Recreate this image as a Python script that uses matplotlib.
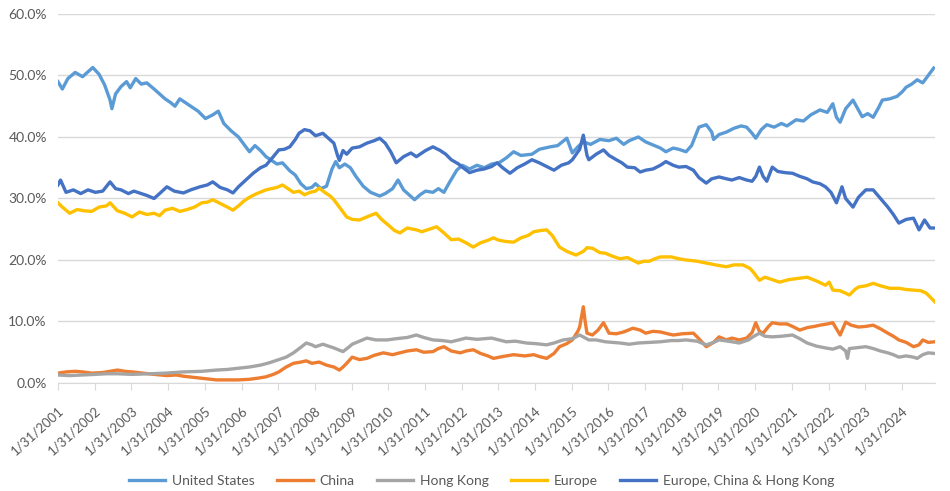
import matplotlib
matplotlib.use("Agg")
import matplotlib.pyplot as plt

# --- Data (fractional year, share in %) ---
us_x = [2001.08, 2001.2, 2001.35, 2001.55, 2001.75, 2001.9, 2002.03, 2002.2, 2002.35, 2002.5,
        2002.55, 2002.65, 2002.8, 2002.95, 2003.05, 2003.2, 2003.35, 2003.5, 2003.7, 2003.85,
        2004.0, 2004.15, 2004.27, 2004.4, 2004.55, 2004.7, 2004.9, 2005.1, 2005.3, 2005.45,
        2005.6, 2005.8, 2006.0, 2006.15, 2006.3, 2006.45, 2006.6, 2006.75, 2006.9, 2007.05,
        2007.2, 2007.4, 2007.55, 2007.7, 2007.85, 2008.0, 2008.1, 2008.25, 2008.4, 2008.55,
        2008.65, 2008.75, 2008.9, 2009.05, 2009.2, 2009.4, 2009.6, 2009.85, 2010.0, 2010.2,
        2010.35, 2010.5, 2010.65, 2010.8, 2010.95, 2011.1, 2011.3, 2011.45, 2011.6, 2011.75,
        2011.95, 2012.1, 2012.3, 2012.5, 2012.7, 2012.9, 2013.1, 2013.3, 2013.5, 2013.7,
        2014.0, 2014.2, 2014.5, 2014.7, 2014.95, 2015.1, 2015.25, 2015.4, 2015.6, 2015.85,
        2016.1, 2016.3, 2016.5, 2016.65, 2016.9, 2017.1, 2017.3, 2017.5, 2017.65, 2017.85,
        2018.0, 2018.2, 2018.35, 2018.55, 2018.75, 2018.9, 2018.95, 2019.1, 2019.3, 2019.5,
        2019.7, 2019.85, 2020.0, 2020.1, 2020.25, 2020.4, 2020.6, 2020.8, 2020.95, 2021.2,
        2021.4, 2021.6, 2021.85, 2022.05, 2022.2, 2022.3, 2022.4, 2022.55, 2022.75, 2022.9,
        2023.0, 2023.15, 2023.3, 2023.45, 2023.55, 2023.75, 2023.95, 2024.1, 2024.2, 2024.35,
        2024.5, 2024.65, 2024.8, 2024.95]
us_y = [49.0, 47.8, 49.5, 50.5, 49.8, 50.6, 51.3, 50.2, 48.5, 46.0,
        44.6, 47.0, 48.2, 49.0, 48.0, 49.5, 48.6, 48.8, 47.8, 47.0,
        46.2, 45.6, 45.0, 46.2, 45.6, 45.0, 44.2, 43.0, 43.6, 44.2,
        42.2, 41.0, 40.0, 38.8, 37.6, 38.6, 37.8, 36.8, 36.2, 35.6,
        35.8, 34.5, 33.8, 32.4, 31.6, 31.8, 32.4, 31.6, 32.0, 34.8,
        36.0, 35.0, 35.6, 35.0, 33.6, 32.0, 31.0, 30.4, 30.8, 31.6,
        33.0, 31.4, 30.6, 29.8, 30.6, 31.2, 31.0, 31.6, 31.0, 32.6,
        34.6, 35.4, 34.8, 35.4, 35.0, 35.6, 35.8, 36.6, 37.6, 37.0,
        37.2, 38.0, 38.4, 38.6, 39.8, 37.4, 38.4, 39.2, 38.8, 39.6,
        39.4, 39.8, 38.8, 39.4, 40.0, 39.2, 38.7, 38.2, 37.6, 38.2,
        38.0, 37.6, 38.6, 41.6, 42.0, 40.8, 39.6, 40.4, 40.8, 41.4,
        41.8, 41.6, 40.6, 39.8, 41.2, 42.0, 41.6, 42.2, 41.8, 42.8,
        42.6, 43.6, 44.4, 44.0, 45.4, 43.2, 42.4, 44.6, 46.0, 44.4,
        43.3, 43.8, 43.2, 44.8, 46.0, 46.2, 46.6, 47.4, 48.1, 48.6,
        49.3, 48.8, 50.0, 51.2]

china_x = [2001.08, 2001.3, 2001.55, 2001.75, 2002.0, 2002.3, 2002.5, 2002.7, 2002.9, 2003.1,
           2003.4, 2003.7, 2004.05, 2004.3, 2004.5, 2004.8, 2005.1, 2005.4, 2005.7, 2006.0,
           2006.3, 2006.55, 2006.75, 2006.95, 2007.1, 2007.3, 2007.5, 2007.7, 2007.85, 2008.0,
           2008.2, 2008.4, 2008.6, 2008.75, 2008.85, 2008.95, 2009.1, 2009.3, 2009.5, 2009.7,
           2009.95, 2010.2, 2010.4, 2010.6, 2010.85, 2011.05, 2011.3, 2011.45, 2011.6, 2011.8,
           2012.05, 2012.2, 2012.4, 2012.6, 2012.8, 2012.95, 2013.2, 2013.5, 2013.8, 2014.05,
           2014.2, 2014.4, 2014.6, 2014.75, 2014.95, 2015.1, 2015.25, 2015.3, 2015.4, 2015.45,
           2015.5, 2015.65, 2015.8, 2015.95, 2016.1, 2016.3, 2016.5, 2016.75, 2016.95, 2017.1,
           2017.3, 2017.5, 2017.7, 2017.85, 2018.1, 2018.4, 2018.55, 2018.75, 2018.95, 2019.1,
           2019.3, 2019.45, 2019.65, 2019.85, 2020.0, 2020.1, 2020.2, 2020.3, 2020.45, 2020.55,
           2020.75, 2020.95, 2021.1, 2021.3, 2021.5, 2021.7, 2021.85, 2022.05, 2022.2, 2022.3,
           2022.4, 2022.55, 2022.7, 2022.9, 2023.1, 2023.3, 2023.5, 2023.7, 2023.85, 2024.0,
           2024.2, 2024.4, 2024.55, 2024.65, 2024.8, 2024.98]
china_y = [1.6, 1.8, 1.9, 1.8, 1.6, 1.7, 1.9, 2.1, 1.9, 1.8,
           1.6, 1.4, 1.2, 1.3, 1.1, 0.9, 0.7, 0.5, 0.5, 0.5,
           0.6, 0.8, 1.0, 1.4, 1.8, 2.6, 3.2, 3.4, 3.6, 3.2,
           3.4, 2.9, 2.6, 2.1, 2.6, 3.2, 4.2, 3.8, 4.0, 4.5,
           4.9, 4.6, 4.9, 5.2, 5.4, 5.0, 5.1, 5.6, 5.9, 5.2,
           4.9, 5.2, 5.4, 4.8, 4.4, 4.0, 4.3, 4.6, 4.4, 4.6,
           4.3, 4.0, 4.8, 5.9, 6.4, 7.0, 8.4, 9.1, 12.4, 10.0,
           8.1, 7.8, 8.6, 9.8, 8.1, 8.0, 8.3, 8.9, 8.6, 8.1,
           8.4, 8.3, 8.0, 7.8, 8.0, 8.1, 7.2, 5.9, 6.6, 7.5,
           7.0, 7.3, 7.0, 7.3, 8.2, 9.8, 8.4, 8.1, 9.2, 9.8,
           9.6, 9.6, 9.2, 8.6, 9.0, 9.2, 9.4, 9.6, 9.8, 8.8,
           7.8, 9.9, 9.4, 9.1, 9.2, 9.4, 8.8, 8.1, 7.6, 7.0,
           6.6, 5.9, 6.2, 7.0, 6.6, 6.7]

hk_x = [2001.08, 2001.4, 2001.75, 2002.1, 2002.4, 2002.7, 2003.1, 2003.6, 2004.0, 2004.5,
        2005.0, 2005.4, 2005.7, 2006.0, 2006.3, 2006.6, 2006.85, 2007.05, 2007.3, 2007.5,
        2007.7, 2007.85, 2008.0, 2008.1, 2008.3, 2008.45, 2008.6, 2008.85, 2009.0, 2009.1,
        2009.3, 2009.5, 2009.75, 2010.05, 2010.3, 2010.6, 2010.85, 2011.05, 2011.3, 2011.55,
        2011.8, 2012.0, 2012.2, 2012.5, 2012.7, 2012.9, 2013.1, 2013.3, 2013.55, 2013.85,
        2014.1, 2014.4, 2014.6, 2014.85, 2015.1, 2015.3, 2015.55, 2015.75, 2016.0, 2016.2,
        2016.4, 2016.65, 2016.9, 2017.2, 2017.5, 2017.8, 2018.0, 2018.2, 2018.5, 2018.75,
        2018.95, 2019.1, 2019.35, 2019.65, 2019.9, 2020.05, 2020.2, 2020.35, 2020.55, 2020.8,
        2021.1, 2021.3, 2021.5, 2021.75, 2022.0, 2022.2, 2022.4, 2022.55, 2022.6, 2022.65,
        2022.8, 2023.1, 2023.3, 2023.5, 2023.7, 2023.85, 2024.0, 2024.2, 2024.4, 2024.5,
        2024.65, 2024.8, 2024.98]
hk_y = [1.3, 1.2, 1.3, 1.4, 1.5, 1.5, 1.4, 1.5, 1.6, 1.8,
        1.9, 2.1, 2.2, 2.4, 2.6, 2.9, 3.3, 3.7, 4.2, 4.9,
        5.8, 6.5, 6.2, 5.9, 6.3, 6.0, 5.7, 5.1, 5.8, 6.3,
        6.8, 7.3, 7.0, 7.0, 7.2, 7.4, 7.8, 7.4, 7.0, 6.9,
        6.7, 7.0, 7.3, 7.1, 7.2, 7.3, 7.0, 6.7, 6.8, 6.5,
        6.4, 6.2, 6.5, 7.0, 7.2, 7.8, 7.0, 7.0, 6.7, 6.6,
        6.5, 6.3, 6.5, 6.6, 6.7, 6.9, 6.9, 7.0, 6.8, 6.2,
        6.6, 7.0, 6.8, 6.5, 7.0, 7.6, 8.1, 7.6, 7.5, 7.6,
        7.8, 7.2, 6.5, 6.0, 5.7, 5.5, 5.9, 5.2, 4.0, 5.6,
        5.7, 5.9, 5.6, 5.2, 4.9, 4.6, 4.2, 4.4, 4.2, 4.0,
        4.6, 4.9, 4.8]

eu_x = [2001.08, 2001.2, 2001.4, 2001.6, 2001.8, 2002.0, 2002.2, 2002.4, 2002.5, 2002.7,
        2002.9, 2003.1, 2003.3, 2003.5, 2003.7, 2003.85, 2004.0, 2004.2, 2004.4, 2004.6,
        2004.8, 2005.0, 2005.15, 2005.3, 2005.5, 2005.7, 2005.85, 2006.0, 2006.15, 2006.3,
        2006.5, 2006.75, 2006.9, 2007.05, 2007.2, 2007.35, 2007.5, 2007.65, 2007.8, 2007.95,
        2008.1, 2008.2, 2008.35, 2008.5, 2008.6, 2008.75, 2008.95, 2009.1, 2009.3, 2009.5,
        2009.75, 2009.9, 2010.1, 2010.25, 2010.4, 2010.6, 2010.85, 2011.0, 2011.2, 2011.4,
        2011.6, 2011.8, 2012.0, 2012.2, 2012.4, 2012.6, 2012.8, 2012.95, 2013.1, 2013.3,
        2013.5, 2013.7, 2013.9, 2014.05, 2014.25, 2014.4, 2014.55, 2014.75, 2014.95, 2015.2,
        2015.4, 2015.5, 2015.65, 2015.85, 2016.0, 2016.2, 2016.4, 2016.6, 2016.9, 2017.05,
        2017.2, 2017.35, 2017.5, 2017.8, 2018.0, 2018.2, 2018.5, 2018.75, 2019.0, 2019.3,
        2019.5, 2019.75, 2019.95, 2020.05, 2020.2, 2020.35, 2020.55, 2020.75, 2021.0, 2021.25,
        2021.5, 2021.75, 2022.0, 2022.1, 2022.2, 2022.4, 2022.55, 2022.65, 2022.8, 2022.9,
        2023.1, 2023.3, 2023.5, 2023.75, 2024.0, 2024.2, 2024.4, 2024.6, 2024.75, 2024.88,
        2024.98]
eu_y = [29.3, 28.6, 27.6, 28.2, 28.0, 27.9, 28.6, 28.8, 29.3, 28.0,
        27.6, 27.0, 27.8, 27.4, 27.6, 27.2, 28.1, 28.4, 27.9, 28.2,
        28.6, 29.3, 29.4, 29.8, 29.2, 28.6, 28.1, 28.8, 29.6, 30.2,
        30.8, 31.4, 31.6, 31.8, 32.2, 31.6, 31.0, 31.2, 30.6, 31.0,
        31.2, 31.7, 31.0, 30.4, 29.8, 28.6, 27.0, 26.6, 26.5, 27.0,
        27.6, 26.6, 25.6, 24.8, 24.4, 25.2, 24.9, 24.6, 25.0, 25.4,
        24.4, 23.3, 23.4, 22.8, 22.1, 22.8, 23.2, 23.6, 23.2, 23.0,
        22.9, 23.6, 24.0, 24.6, 24.8, 24.9, 24.0, 22.1, 21.4, 20.8,
        21.4, 22.0, 21.9, 21.2, 21.1, 20.6, 20.2, 20.4, 19.5, 19.8,
        19.8, 20.2, 20.5, 20.5, 20.2, 20.0, 19.8, 19.5, 19.2, 18.9,
        19.2, 19.2, 18.6, 17.9, 16.7, 17.2, 16.8, 16.4, 16.8, 17.0,
        17.2, 16.6, 15.9, 16.4, 15.1, 15.0, 14.6, 14.3, 15.2, 15.6,
        15.8, 16.2, 15.8, 15.4, 15.4, 15.2, 15.1, 15.0, 14.6, 13.8,
        13.2]

ech_x = [2001.08, 2001.15, 2001.3, 2001.5, 2001.7, 2001.9, 2002.1, 2002.3, 2002.5, 2002.65,
         2002.8, 2003.0, 2003.15, 2003.35, 2003.5, 2003.7, 2003.85, 2004.05, 2004.25, 2004.5,
         2004.7, 2004.95, 2005.15, 2005.3, 2005.5, 2005.7, 2005.85, 2006.0, 2006.2, 2006.4,
         2006.6, 2006.75, 2006.95, 2007.1, 2007.25, 2007.4, 2007.55, 2007.65, 2007.8, 2007.95,
         2008.1, 2008.3, 2008.45, 2008.6, 2008.7, 2008.75, 2008.85, 2008.95, 2009.1, 2009.3,
         2009.5, 2009.7, 2009.85, 2010.0, 2010.15, 2010.3, 2010.5, 2010.7, 2010.85, 2010.95,
         2011.1, 2011.3, 2011.5, 2011.65, 2011.8, 2012.0, 2012.1, 2012.3, 2012.5, 2012.7,
         2012.9, 2013.05, 2013.2, 2013.4, 2013.6, 2013.8, 2014.0, 2014.2, 2014.4, 2014.6,
         2014.8, 2015.0, 2015.1, 2015.3, 2015.4, 2015.5, 2015.55, 2015.75, 2015.95, 2016.1,
         2016.3, 2016.45, 2016.6, 2016.8, 2016.95, 2017.1, 2017.3, 2017.5, 2017.65, 2017.85,
         2018.0, 2018.2, 2018.4, 2018.55, 2018.75, 2018.9, 2019.1, 2019.3, 2019.45, 2019.65,
         2019.85, 2020.0, 2020.1, 2020.2, 2020.3, 2020.4, 2020.55, 2020.7, 2020.9, 2021.1,
         2021.3, 2021.5, 2021.65, 2021.85, 2022.0, 2022.15, 2022.3, 2022.45, 2022.55, 2022.75,
         2022.9, 2023.1, 2023.3, 2023.5, 2023.7, 2023.85, 2024.0, 2024.2, 2024.4, 2024.55,
         2024.7, 2024.85, 2024.95]
ech_y = [32.2, 33.0, 31.0, 31.4, 30.8, 31.4, 31.0, 31.2, 32.7, 31.6,
         31.4, 30.8, 31.2, 30.8, 30.5, 30.0, 30.8, 31.9, 31.2, 30.9,
         31.4, 31.9, 32.2, 32.7, 31.8, 31.4, 30.9, 31.9, 33.0, 34.1,
         35.0, 35.4, 36.8, 37.9, 38.0, 38.4, 39.6, 40.6, 41.2, 41.0,
         40.2, 40.6, 39.8, 39.0, 37.0, 36.2, 37.8, 37.2, 38.2, 38.4,
         39.0, 39.4, 39.8, 39.0, 37.6, 35.8, 36.8, 37.4, 36.8, 37.2,
         37.8, 38.4, 37.8, 37.2, 36.3, 35.6, 35.1, 34.2, 34.6, 34.8,
         35.2, 35.8, 35.0, 34.1, 35.0, 35.6, 36.3, 35.8, 35.2, 34.6,
         35.4, 35.8, 36.3, 38.0, 40.3, 37.0, 36.3, 37.2, 37.9, 37.0,
         36.3, 35.8, 35.1, 35.0, 34.3, 34.6, 34.8, 35.4, 36.0, 35.4,
         35.1, 35.2, 34.6, 33.4, 32.5, 33.2, 33.5, 33.2, 33.0, 33.4,
         33.0, 32.8, 33.6, 35.1, 33.6, 32.8, 35.1, 34.4, 34.2, 34.1,
         33.6, 33.2, 32.7, 32.4, 31.9, 31.0, 29.3, 31.9, 30.0, 28.6,
         30.2, 31.4, 31.4, 30.0, 28.6, 27.4, 26.0, 26.6, 26.8, 24.9,
         26.5, 25.2, 25.2]

tick_years = list(range(2001, 2025))
tick_labels = [f"1/31/{y}" for y in tick_years]
y_ticks = [0, 10, 20, 30, 40, 50, 60]

series = [
    ("United States", us_x, us_y, "#5B9BD5"),
    ("China", china_x, china_y, "#ED7D31"),
    ("Hong Kong", hk_x, hk_y, "#A5A5A5"),
    ("Europe", eu_x, eu_y, "#FFC000"),
    ("Europe, China & Hong Kong", ech_x, ech_y, "#4472C4"),
]

plt.rcParams["font.family"] = ["Lato", "DejaVu Sans"]
text_color = "#595959"
grid_color = "#D9D9D9"

fig = plt.figure(figsize=(9.5, 4.91), dpi=100)
ax = fig.add_axes([0.061, 0.22, 0.923, 0.7515])

for name, xs, ys, color in series:
    ax.plot(xs, ys, color=color, linewidth=2.4, label=name, solid_joinstyle="round")

ax.set_xlim(2001.08, 2024.98)
ax.set_ylim(0, 60)
ax.set_yticks(y_ticks)
ax.set_yticklabels([f"{v:.1f}%" for v in y_ticks], color=text_color, fontsize=10)
ax.set_xticks([y + 1 / 12 for y in tick_years])
ax.set_xticklabels(tick_labels, rotation=42, ha="right", rotation_mode="anchor",
                   color=text_color, fontsize=9.5)

ax.grid(axis="y", color=grid_color, linewidth=1)
ax.set_axisbelow(True)
for side in ["top", "right", "left"]:
    ax.spines[side].set_visible(False)
ax.spines["bottom"].set_color(grid_color)
ax.tick_params(axis="y", length=0, pad=8)
ax.tick_params(axis="x", length=5, color=grid_color, pad=10)

# legend sits at the very bottom of the figure
leg = fig.legend(loc="center", bbox_to_anchor=(0.507, 0.021), ncol=5, frameon=False,
                 fontsize=10, handlelength=2.6, columnspacing=1.6, handletextpad=0.5)
for t in leg.get_texts():
    t.set_color(text_color)

fig.savefig("out.png", dpi=100)
